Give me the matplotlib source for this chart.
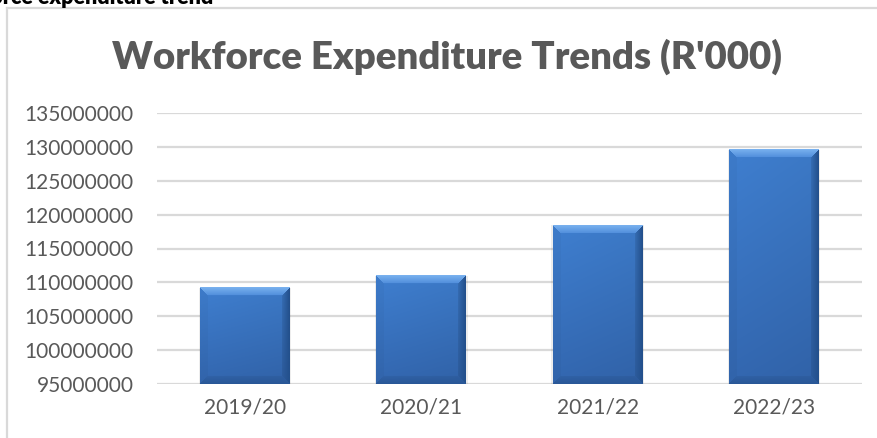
import numpy as np
import matplotlib
matplotlib.use("Agg")
import matplotlib.pyplot as plt
from matplotlib.lines import Line2D
from matplotlib.colors import to_rgb

# Workforce expenditure per financial year (R'000)
years = ["2019/20", "2020/21", "2021/22", "2022/23"]
spend = [109200000, 111000000, 118400000, 129600000]
y_ticks = list(range(95000000, 135000001, 5000000))

W, H, DPI = 877, 438, 100
fig = plt.figure(figsize=(W / DPI, H / DPI), dpi=DPI)
fig.patch.set_facecolor("white")

FONT = ["Lato", "DejaVu Sans"]
GREY_TXT = "#595959"
GRID = "#d9d9d9"

# chart frame (left and top edges)
fig.add_artist(Line2D([7 / W, 7 / W], [0, 1 - 8 / H], transform=fig.transFigure,
                      color=GRID, lw=1.6))
fig.add_artist(Line2D([7 / W, 1], [1 - 8 / H, 1 - 8 / H], transform=fig.transFigure,
                      color=GRID, lw=1.6))

# section heading above the chart
fig.text(213 / W, 1 - 4 / H, "Workforce expenditure trend", ha="right", va="baseline",
         fontsize=15.5, fontweight="heavy", color="black", family=FONT)

fig.text(447 / W, 1 - 57 / H, "Workforce Expenditure Trends (R'000)", ha="center",
         va="center", fontsize=27.6, fontweight="heavy", color=GREY_TXT, family=FONT)

ax_l, ax_r, ax_b, ax_t = 157, 862, 384, 113
ax = fig.add_axes([ax_l / W, 1 - ax_b / H, (ax_r - ax_l) / W, (ax_b - ax_t) / H])
ax.set_facecolor("white")

x = np.arange(len(years))
bars = ax.bar(x, spend, width=0.51, color="#3a75c2", zorder=3)

ax.set_ylim(y_ticks[0], y_ticks[-1])
ax.set_xlim(-0.5, len(years) - 0.5)
ax.set_yticks(y_ticks)
ax.set_yticklabels([str(v) for v in y_ticks])
ax.set_xticks(x)
ax.set_xticklabels(years)
ax.yaxis.grid(True, color=GRID, lw=1.6, zorder=0)
ax.set_axisbelow(True)
for s in ax.spines.values():
    s.set_visible(False)
ax.tick_params(axis="both", length=0, labelsize=15, labelcolor=GREY_TXT)
ax.tick_params(axis="y", pad=17)
ax.tick_params(axis="x", pad=10)
for lab in ax.get_xticklabels() + ax.get_yticklabels():
    lab.set_family(FONT)


def bevel_image(wpx, hpx, b=8):
    """RGB array of a bevelled, shaded bar face."""
    yy, xx = np.mgrid[0:hpx, 0:wpx]
    t = yy / max(hpx - 1, 1)
    face_top, face_bot = np.array(to_rgb("#3f7fd0")), np.array(to_rgb("#3367b0"))
    img = face_top * (1 - t[..., None]) + face_bot * t[..., None]
    s = xx / max(wpx - 1, 1)
    img *= (1 - 0.05 * s[..., None])
    dl, dr, dt, db = xx, wpx - 1 - xx, yy, hpx - 1 - yy
    m = np.minimum(np.minimum(dl, dr), np.minimum(dt, db))
    edge = m < b
    top = edge & (dt == m)
    bot = edge & (db == m) & ~top
    left = edge & (dl == m) & ~top & ~bot
    right = edge & (dr == m) & ~top & ~bot & ~left
    tt = (dt / b)[..., None]
    img = np.where(top[..., None],
                   np.array(to_rgb("#78b0ee")) * (1 - tt) + np.array(to_rgb("#4f8ddb")) * tt, img)
    img = np.where(left[..., None], img * 0.97, img)
    rr = (dr / b)[..., None]
    img = np.where(right[..., None],
                   np.array(to_rgb("#23508c")) * (1 - rr) + img * 0.93 * rr, img)
    bb = (db / b)[..., None]
    img = np.where(bot[..., None],
                   np.array(to_rgb("#2a5898")) * (1 - bb) + img * 0.95 * bb, img)
    return np.clip(img, 0, 1)


fig.canvas.draw()
y_floor = ax.get_ylim()[0]
for rect in bars:
    x0, x1 = rect.get_x(), rect.get_x() + rect.get_width()
    top_val = rect.get_y() + rect.get_height()
    p0 = ax.transData.transform((x0, y_floor))
    p1 = ax.transData.transform((x1, top_val))
    wpx = max(int(round(abs(p1[0] - p0[0]))), 2)
    hpx = max(int(round(abs(p1[1] - p0[1]))), 2)
    # soft shadow around the bar
    ax.bar(rect.get_x() + rect.get_width() / 2, top_val - y_floor, bottom=y_floor,
           width=rect.get_width() * 1.03, color="#000000", alpha=0.07, zorder=2)
    ax.imshow(bevel_image(wpx, hpx), extent=(x0, x1, y_floor, top_val),
              aspect="auto", origin="upper", zorder=4, interpolation="bilinear")

ax.set_xlim(-0.5, len(years) - 0.5)
ax.set_ylim(y_ticks[0], y_ticks[-1])

fig.savefig("out.png", dpi=DPI, facecolor="white")
